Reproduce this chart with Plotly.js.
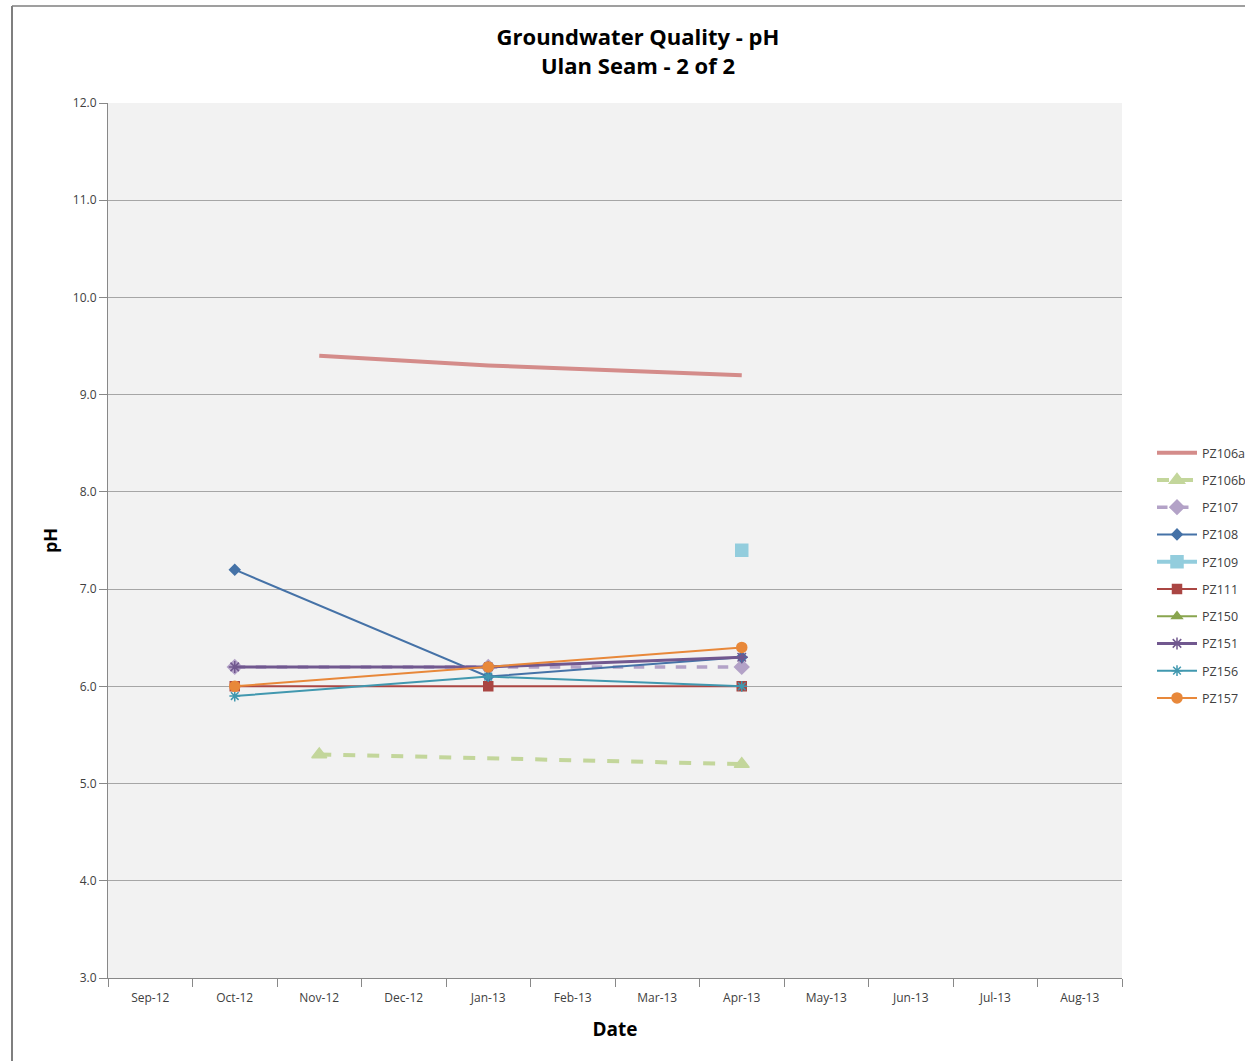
<!DOCTYPE html>
<html><head><meta charset="utf-8">
<script src="https://cdn.plot.ly/plotly-3.0.1.min.js"></script>
<style>html,body{margin:0;padding:0;background:#fff;}#chart{width:1245px;height:1061px;}</style>
</head><body><div id="chart"></div>
<script>
const months = ['Sep-12','Oct-12','Nov-12','Dec-12','Jan-13','Feb-13','Mar-13','Apr-13','May-13','Jun-13','Jul-13','Aug-13'];

const pz106aX = ['Nov-12','Jan-13','Apr-13'];   const pz106aY = [9.4, 9.3, 9.2];
const pz106bX = ['Nov-12','Apr-13'];            const pz106bY = [5.3, 5.2];
const pz107X  = ['Oct-12','Jan-13','Apr-13'];   const pz107Y  = [6.2, 6.2, 6.2];
const pz108X  = ['Oct-12','Jan-13','Apr-13'];   const pz108Y  = [7.2, 6.1, 6.3];
const pz109X  = ['Apr-13'];                     const pz109Y  = [7.4];
const pz111X  = ['Oct-12','Jan-13','Apr-13'];   const pz111Y  = [6.0, 6.0, 6.0];
const pz150X  = ['Oct-12'];                     const pz150Y  = [null];
const pz151X  = ['Oct-12','Jan-13','Apr-13'];   const pz151Y  = [6.2, 6.2, 6.3];
const pz156X  = ['Oct-12','Jan-13','Apr-13'];   const pz156Y  = [5.9, 6.1, 6.0];
const pz157X  = ['Oct-12','Jan-13','Apr-13'];   const pz157Y  = [6.0, 6.2, 6.4];

function tr(name, x, y, color, width, dash, symbol, msize, showMarkers, grp) {
  return {
    type: 'scatter', name: name, x: x, y: y, legendgroup: grp,
    mode: showMarkers ? 'lines+markers' : 'lines',
    line: {color: color, width: width, dash: dash},
    marker: {color: color, symbol: symbol, size: msize, line: {color: color, width: 1.5}},
    connectgaps: true
  };
}

const data = [
  tr('PZ106a', pz106aX, pz106aY, '#D48C8A', 4, 'solid', 'circle', 1, false, 'a'),
  tr('PZ106b', pz106bX, pz106bY, '#C3D69B', 4, 'dash', 'triangle-up', 13, true, 'b'),
  tr('PZ107', pz107X, pz107Y, '#B3A2C7', 3.5, 'dash', 'diamond', 11, true, 'c'),
  tr('PZ108', pz108X, pz108Y, '#4572A7', 2, 'solid', 'diamond', 8, true, 'd'),
  tr('PZ109', pz109X, pz109Y, '#93CDDD', 4, 'solid', 'square', 12, true, 'e'),
  tr('PZ111', pz111X, pz111Y, '#AA4643', 2, 'solid', 'square', 9, true, 'f'),
  tr('PZ150', pz150X, pz150Y, '#89A54E', 2, 'solid', 'triangle-up', 9, true, 'g'),
  tr('PZ151', pz151X, pz151Y, '#71588F', 3, 'solid', 'asterisk-open', 10, true, 'h'),
  tr('PZ156', pz156X, pz156Y, '#4198AF', 2, 'solid', 'asterisk-open', 9, true, 'i'),
  tr('PZ157', pz157X, pz157Y, '#E8883A', 2, 'solid', 'circle', 10, true, 'j')
];

const W = 1014, H = 875;
const FONT = '"Open Sans", "Liberation Sans", sans-serif';
const layout = {
  width: 1245, height: 1061,
  margin: {l: 108, r: 123, t: 103, b: 83, pad: 0},
  paper_bgcolor: '#FFFFFF',
  plot_bgcolor: '#F2F2F2',
  font: {family: FONT, color: '#404040', size: 11},
  title: {
    text: '<b>Groundwater Quality - pH</b><br><b>Ulan Seam - 2 of 2</b>',
    font: {size: 22, color: '#000000', family: FONT},
    x: 638 / 1245, xanchor: 'center', yref: 'container', y: 1 - 45 / 1061, yanchor: 'top'
  },
  xaxis: {
    type: 'category', categoryorder: 'array', categoryarray: months,
    range: [-0.5, 11.5], tickson: 'boundaries',
    ticks: 'outside', ticklen: 8, tickcolor: '#888888',
    showline: true, linecolor: '#888888', linewidth: 1,
    showgrid: false, zeroline: false, ticklabelstandoff: 9,
    tickfont: {size: 12, color: '#404040'},
    title: {text: '<b>Date</b>', font: {size: 19, color: '#000000'}, standoff: 17}
  },
  yaxis: {
    range: [3, 12], dtick: 1, tick0: 3, tickformat: '.1f',
    ticks: 'outside', ticklen: 8, tickcolor: '#888888',
    showline: true, linecolor: '#888888', linewidth: 1,
    showgrid: true, gridcolor: '#A6A6A6', gridwidth: 1, zeroline: false,
    tickfont: {size: 12, color: '#404040'},
    title: {text: '<b>pH</b>', font: {size: 18, color: '#000000'}, standoff: 10}
  },
  legend: {
    xref: 'container', yref: 'container',
    x: 1152 / 1245, xanchor: 'left', y: 1 - 438 / 1061, yanchor: 'top',
    bgcolor: 'rgba(0,0,0,0)', font: {size: 12.5, color: '#404040'},
    tracegroupgap: 8, traceorder: 'grouped', itemwidth: 40
  },
  shapes: [
    {type: 'line', xref: 'paper', yref: 'paper', x0: (12 - 108) / W, x1: (12 - 108) / W, y0: (978 - 6) / H, y1: (978 - 1061) / H, line: {color: '#7F7F7F', width: 2}},
    {type: 'line', xref: 'paper', yref: 'paper', x0: (12 - 108) / W, x1: (1245 - 108) / W, y0: (978 - 6) / H, y1: (978 - 6) / H, line: {color: '#7F7F7F', width: 1.5}}
  ],
  showlegend: true
};

Plotly.newPlot('chart', data, layout, {displayModeBar: false, staticPlot: true});
</script></body></html>
